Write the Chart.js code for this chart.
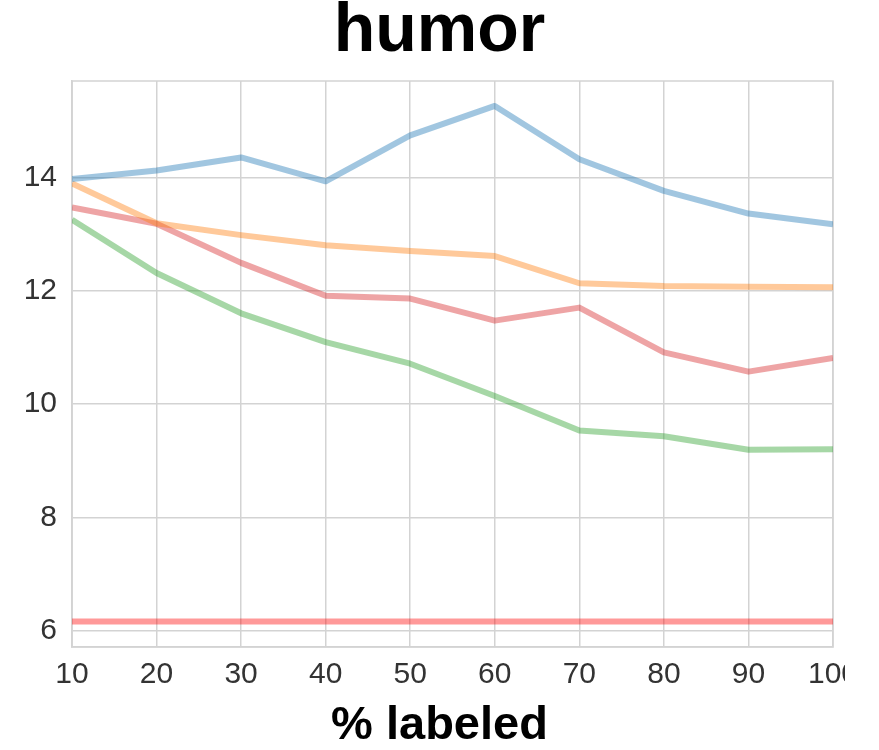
<!DOCTYPE html>
<html>
<head>
<meta charset="utf-8">
<title>humor</title>
<script src="https://cdn.jsdelivr.net/npm/chart.js@4/dist/chart.umd.min.js"></script>
<style>
  html, body { margin: 0; padding: 0; background: #ffffff; }
  #wrap { width: 845px; height: 750px; overflow: hidden; background: #ffffff; }
  canvas { display: block; }
</style>
</head>
<body>
<div id="wrap"><canvas id="chart" width="879" height="750"></canvas></div>
<script>
// x positions: percentage of labeled data
const pctLabeled = [10, 20, 30, 40, 50, 60, 70, 80, 90, 100];

// one series per method
const seriesBlue   = [13.97, 14.12, 14.35, 13.93, 14.74, 15.26, 14.32, 13.76, 13.36, 13.17];
const seriesOrange = [13.89, 13.19, 12.98, 12.80, 12.70, 12.61, 12.13, 12.08, 12.07, 12.06];
const seriesGreen  = [13.25, 12.31, 11.60, 11.09, 10.71, 10.14, 9.53, 9.43, 9.19, 9.20];
const seriesRed    = [13.47, 13.18, 12.49, 11.91, 11.86, 11.47, 11.70, 10.91, 10.57, 10.81];
const baseline     = [6.16, 6.16, 6.16, 6.16, 6.16, 6.16, 6.16, 6.16, 6.16, 6.16];

// axis ticks
const xTicks = [10, 20, 30, 40, 50, 60, 70, 80, 90, 100];
const yTicks = [6, 8, 10, 12, 14];

const gridColor = '#d3d3d3';
const family = '"Liberation Sans", Arial, Helvetica, sans-serif';
const tickFont = { family: family, size: 30, lineHeight: 1.2 };

function toPoints(values) {
  return pctLabeled.map((x, i) => ({ x: x, y: values[i] }));
}

function lineSet(values, color) {
  return {
    data: toPoints(values),
    borderColor: color,
    borderWidth: 6,
    pointRadius: 0,
    fill: false,
    tension: 0,
    borderJoinStyle: 'round',
    borderCapStyle: 'butt'
  };
}

// outline around the plotting area
const frame = {
  id: 'frame',
  beforeDatasetsDraw(chart) {
    const a = chart.chartArea;
    const ctx = chart.ctx;
    ctx.save();
    ctx.strokeStyle = gridColor;
    ctx.lineWidth = 1.5;
    ctx.strokeRect(a.left, a.top, a.right - a.left, a.bottom - a.top);
    ctx.restore();
  }
};

new Chart(document.getElementById('chart'), {
  type: 'line',
  data: {
    datasets: [
      lineSet(seriesBlue,   'rgba(31,119,180,0.42)'),
      lineSet(seriesOrange, 'rgba(255,127,14,0.42)'),
      lineSet(seriesGreen,  'rgba(44,160,44,0.42)'),
      lineSet(seriesRed,    'rgba(214,39,40,0.42)'),
      lineSet(baseline,     'rgba(255,0,0,0.40)')
    ]
  },
  options: {
    responsive: false,
    animation: false,
    layout: { padding: 0 },
    plugins: {
      legend: { display: false },
      tooltip: { enabled: false },
      title: {
        display: true,
        text: 'humor',
        color: '#000000',
        font: { family: family, size: 68, weight: 'bold', lineHeight: 0.95 },
        padding: { top: 0, bottom: 16.4 }
      },
      // x-axis caption, centred on the whole figure
      subtitle: {
        display: true,
        position: 'bottom',
        text: '% labeled',
        color: '#000000',
        font: { family: family, size: 47, weight: 'bold', lineHeight: 1 },
        padding: { top: 0, bottom: 0 }
      }
    },
    scales: {
      x: {
        type: 'linear',
        min: 10,
        max: 100,
        afterBuildTicks(scale) { scale.ticks = xTicks.map(v => ({ value: v })); },
        afterFit(scale) {
          scale.height = 56;
          scale.paddingLeft = 0;
          scale.paddingRight = 46;
        },
        ticks: {
          color: '#333333',
          font: tickFont,
          padding: 10,
          maxRotation: 0,
          autoSkip: false
        },
        grid: { color: gridColor, lineWidth: 1.5, drawTicks: false },
        border: { color: gridColor, width: 1.5 }
      },
      y: {
        type: 'linear',
        min: 5.71,
        max: 15.70,
        afterBuildTicks(scale) { scale.ticks = yTicks.map(v => ({ value: v })); },
        afterFit(scale) {
          scale.width = 72;
          scale.paddingTop = 0;
          scale.paddingBottom = 0;
        },
        ticks: {
          color: '#333333',
          font: tickFont,
          padding: 15
        },
        grid: { color: gridColor, lineWidth: 1.5, drawTicks: false },
        border: { color: gridColor, width: 1.5 }
      }
    }
  },
  plugins: [frame]
});
</script>
</body>
</html>
